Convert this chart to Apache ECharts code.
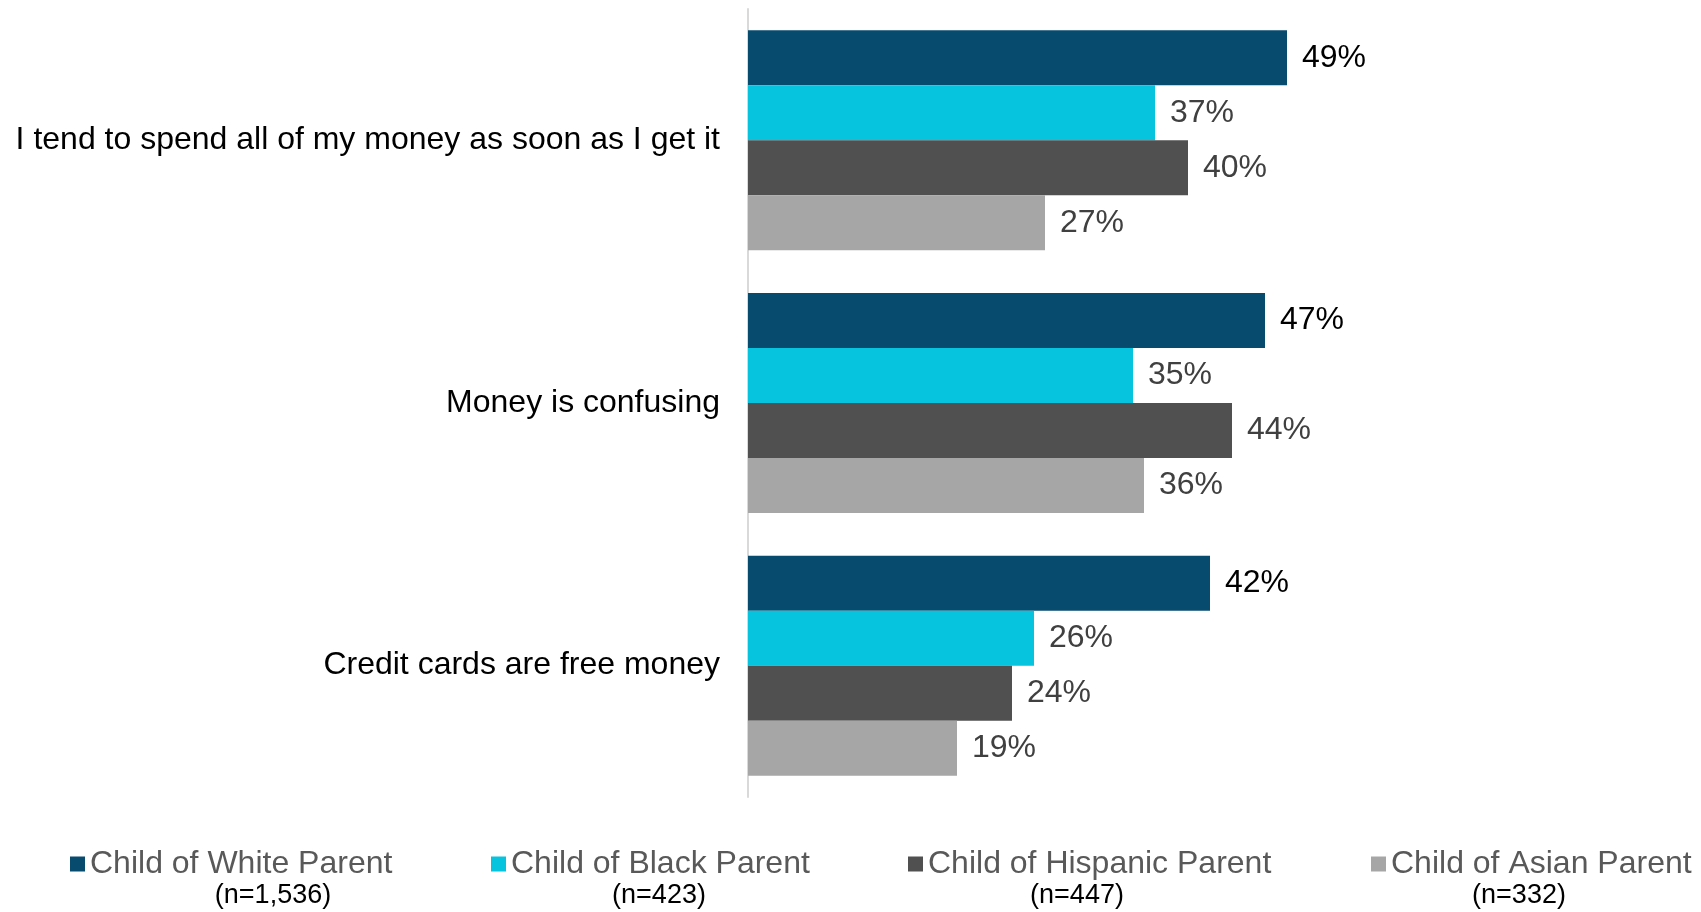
<!DOCTYPE html>
<html>
<head>
<meta charset="utf-8">
<script src="https://cdn.jsdelivr.net/npm/echarts@6/dist/echarts.min.js"></script>
<style>
html,body{margin:0;padding:0;background:#fff;}
#chart{width:1701px;height:912px;}
</style>
</head>
<body>
<div id="chart"></div>
<script>
const categories = ["I tend to spend all of my money as soon as I get it", "Money is confusing", "Credit cards are free money"];
const seriesNames = ["Child of White Parent", "Child of Black Parent", "Child of Hispanic Parent", "Child of Asian Parent"];
const sampleSizes = ["(n=1,536)", "(n=423)", "(n=447)", "(n=332)"];
const whiteValues = [49, 47, 42];
const blackValues = [37, 35, 26];
const hispanicValues = [40, 44, 24];
const asianValues = [27, 36, 19];

const seriesValues = [whiteValues, blackValues, hispanicValues, asianValues];
const colors = ["#074B6E", "#06C3DE", "#505050", "#A6A6A6"];
const labelColors = ["#000000", "#404040", "#404040", "#404040"];
const FONT = "'Liberation Sans', Arial, sans-serif";

const legendLefts = [65, 486, 903, 1366];
const nCenters = [273, 659, 1077, 1519];

const chart = echarts.init(document.getElementById('chart'));
const option = {
  backgroundColor: '#ffffff',
  animation: false,
  grid: { left: 748, top: 9, width: 660, height: 788 },
  xAxis: { type: 'value', min: 0, max: 60, show: false },
  yAxis: {
    type: 'category', data: categories, inverse: true,
    axisLine: { show: true, lineStyle: { color: '#D9D9D9', width: 2 } },
    axisTick: { show: false },
    axisLabel: { fontFamily: FONT, fontSize: 32, color: '#000', margin: 28 }
  },
  legend: seriesNames.map((n, i) => ({
    data: [n], left: legendLefts[i], top: 843, itemWidth: 15, itemHeight: 15,
    icon: 'rect',
    textStyle: { fontFamily: FONT, fontSize: 32, color: '#595959' }
  })),
  graphic: sampleSizes.map((t, i) => ({
    type: 'text', x: nCenters[i], y: 896,
    style: { text: t, fontFamily: FONT, fontSize: 27, fill: '#000', align: 'center', verticalAlign: 'middle' }
  })),
  series: seriesNames.map((n, i) => ({
    name: n, type: 'bar', data: seriesValues[i], barWidth: 55, barGap: '0%',
    itemStyle: { color: colors[i] },
    label: { show: true, position: 'right', distance: 15, formatter: '{c}%',
      fontFamily: FONT, fontSize: 32, color: labelColors[i] }
  }))
};
chart.setOption(option);
</script>
</body>
</html>
